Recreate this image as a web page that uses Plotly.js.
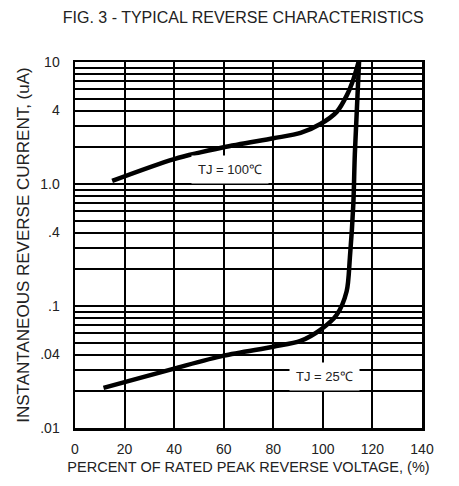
<!DOCTYPE html>
<html><head><meta charset="utf-8">
<script src="https://cdn.plot.ly/plotly-3.0.1.min.js"></script>
<style>html,body{margin:0;padding:0;background:#fff;}#c{width:459px;height:486px;}</style>
</head><body><div id="c"></div>
<script>
// Data
var x100 = [15, 40, 60, 80, 91, 99, 105.6, 109.6, 112.3, 114.4];
var y100 = [1.06, 1.6, 2.0, 2.37, 2.62, 3.1, 3.9, 5.3, 7.2, 10];
var x25 = [11.5, 40, 60, 80, 91, 99, 105.6, 109.6, 110.9, 112.3, 112.9, 114.6];
var y25 = [0.0213, 0.0307, 0.0392, 0.0464, 0.0517, 0.0637, 0.0847, 0.132, 0.248, 0.69, 1.76, 10];
var xTicks = [0, 20, 40, 60, 80, 100, 120, 140];
var yTickVals = [0.01,0.02,0.03,0.04,0.05,0.06,0.07,0.08,0.09,
                 0.1,0.2,0.3,0.4,0.5,0.6,0.7,0.8,0.9,
                 1,2,3,4,5,6,7,8,9,10];
var yTickText = ['.01','','','.04','','','','','',
                 '.1','','','.4','','','','','',
                 '1.0','','','4','','','','','','10'];
var labels = ['TJ = 100\u2103', 'TJ = 25\u2103'];
var labelX = [62.5, 100.8];
var labelY = [1.31, 0.0264];

var F = '"Liberation Sans", Arial, sans-serif';
var traces = [
  {x: x100, y: y100, mode: 'lines', line: {color: '#000', width: 4.5, shape: 'spline', smoothing: 0.8}, hoverinfo: 'skip'},
  {x: x25, y: y25, mode: 'lines', line: {color: '#000', width: 4.5, shape: 'spline', smoothing: 0.8}, hoverinfo: 'skip'}
];
var layout = {
  width: 459, height: 486,
  margin: {l: 75, r: 37, t: 62, b: 58},
  paper_bgcolor: '#fff', plot_bgcolor: '#fff',
  showlegend: false,
  font: {family: F, color: '#222', size: 13},
  title: {text: 'FIG. 3 - TYPICAL REVERSE CHARACTERISTICS', font: {family: F, size: 16, color: '#222'}, x: 0.53, xanchor: 'center', y: 0.965, yanchor: 'middle'},
  xaxis: {
    range: [0, 140], tickmode: 'array', tickvals: xTicks, ticktext: xTicks.map(String),
    showgrid: true, gridcolor: '#000', gridwidth: 2, zeroline: false,
    showline: true, linecolor: '#000', linewidth: 2.5, mirror: true,
    ticks: '', ticklabelstandoff: 7, tickfont: {family: F, size: 14, color: '#222'},
    title: {text: 'PERCENT OF RATED PEAK REVERSE VOLTAGE, (%)', font: {family: F, size: 14.5, color: '#222'}, standoff: 6}
  },
  yaxis: {
    type: 'log', range: [-2, 1], tickmode: 'array', tickvals: yTickVals, ticktext: yTickText,
    showgrid: true, gridcolor: '#000', gridwidth: 2, zeroline: false,
    showline: true, linecolor: '#000', linewidth: 2.5, mirror: true,
    ticks: '', ticklabelstandoff: 10, tickfont: {family: F, size: 14, color: '#222'},
    title: {text: 'INSTANTANEOUS REVERSE CURRENT, (uA)', font: {family: F, size: 17, color: '#222'}, standoff: 7}
  },
  annotations: labels.map(function (t, i) {
    return {x: labelX[i], y: Math.log10(labelY[i]), xref: 'x', yref: 'y', text: t, showarrow: false,
      bgcolor: '#fff', borderpad: 6, font: {family: F, size: 13, color: '#222'}};
  })
};
Plotly.newPlot('c', traces, layout, {staticPlot: true, displayModeBar: false});
</script></body></html>
